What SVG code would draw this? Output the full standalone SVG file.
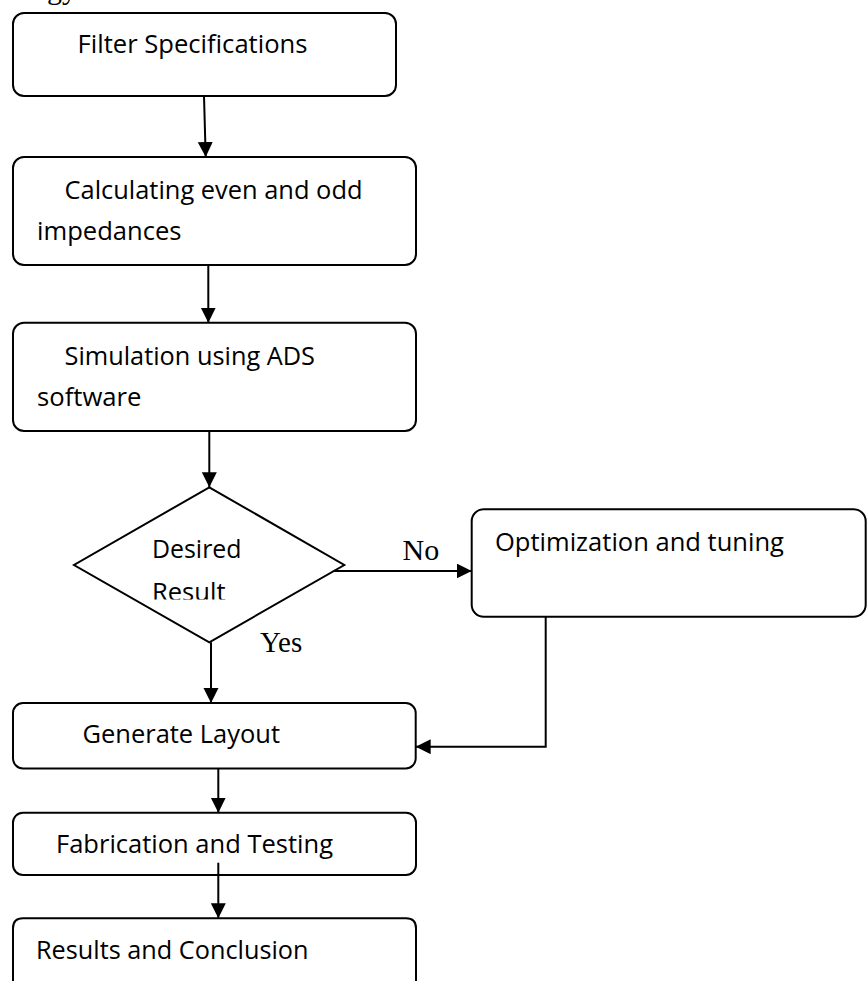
<svg xmlns="http://www.w3.org/2000/svg" width="867" height="981" viewBox="0 0 867 981">
<style>
.box{fill:#fff;stroke:#000;stroke-width:2}
.t{font-family:"Open Sans","Liberation Sans",sans-serif;font-size:25.5px;fill:#000}
.s{font-family:"Liberation Serif","Times New Roman",serif;font-size:30px;fill:#000}
.c{fill:none;stroke:#000;stroke-width:2}
</style>
<defs>
<marker id="ah" markerUnits="userSpaceOnUse" markerWidth="16" markerHeight="16" refX="15" refY="7.5" orient="auto">
<path d="M0,0 L15,7.5 L0,15 z" fill="#000"/>
</marker>
<clipPath id="clipRes"><rect x="100" y="570" width="200" height="29.5"/></clipPath>
</defs>
<rect width="867" height="981" fill="#fff"/>
<text class="s" x="47" y="-1">gy</text>

<g id="n1">
<rect class="box" x="13" y="13" width="383" height="83" rx="11"/>
<text class="t" x="77.5" y="53.3" textLength="230" lengthAdjust="spacingAndGlyphs">Filter Specifications</text>
</g>
<g id="n2">
<rect class="box" x="13" y="157" width="403" height="108" rx="11"/>
<text class="t" x="64.5" y="199.3" textLength="298" lengthAdjust="spacingAndGlyphs">Calculating even and odd</text>
<text class="t" x="37" y="240" textLength="144.5" lengthAdjust="spacingAndGlyphs">impedances</text>
</g>
<g id="n3">
<rect class="box" x="13" y="322.7" width="403" height="108.3" rx="11"/>
<text class="t" x="64.5" y="365" textLength="250.5" lengthAdjust="spacingAndGlyphs">Simulation using ADS</text>
<text class="t" x="37" y="405.7" textLength="104.5" lengthAdjust="spacingAndGlyphs">software</text>
</g>
<g id="n4">
<polygon class="box" points="209.3,487.3 344.3,565 209.3,642.3 74,565"/>
<text class="t" x="152" y="558.3" textLength="89.5" lengthAdjust="spacingAndGlyphs">Desired</text>
<text class="t" x="152" y="601" textLength="73.5" lengthAdjust="spacingAndGlyphs" clip-path="url(#clipRes)">Result</text>
</g>
<g id="n5">
<rect class="box" x="471.7" y="509.3" width="394" height="107.4" rx="12"/>
<text class="t" x="495" y="550.7" textLength="289" lengthAdjust="spacingAndGlyphs">Optimization and tuning</text>
</g>
<g id="n6">
<rect class="box" x="13" y="703" width="402.7" height="65.5" rx="10"/>
<text class="t" x="82.5" y="743.3" textLength="197.5" lengthAdjust="spacingAndGlyphs">Generate Layout</text>
</g>
<g id="n7">
<rect class="box" x="13" y="812.7" width="403" height="62.3" rx="10"/>
<text class="t" x="56" y="853.3" textLength="277" lengthAdjust="spacingAndGlyphs">Fabrication and Testing</text>
</g>
<g id="n8">
<path class="box" d="M13,990 L13,928.3 Q13,918.3 23,918.3 L406,918.3 Q416,918.3 416,928.3 L416,990"/>
<text class="t" x="36" y="959" textLength="272.5" lengthAdjust="spacingAndGlyphs">Results and Conclusion</text>
</g>

<g id="connectors">
<line class="c" x1="204" y1="96" x2="205.7" y2="157" marker-end="url(#ah)"/>
<line class="c" x1="208.3" y1="265" x2="208.3" y2="322.7" marker-end="url(#ah)"/>
<line class="c" x1="209.3" y1="431" x2="209.3" y2="487.3" marker-end="url(#ah)"/>
<line class="c" x1="333.3" y1="571" x2="471.7" y2="571" marker-end="url(#ah)"/>
<line class="c" x1="211" y1="642.3" x2="211" y2="703" marker-end="url(#ah)"/>
<polyline class="c" points="545.7,616.7 545.7,746.7 415.7,746.7" marker-end="url(#ah)"/>
<line class="c" x1="218.3" y1="768.5" x2="218.3" y2="812.7" marker-end="url(#ah)"/>
<line class="c" x1="218.3" y1="862.7" x2="218.3" y2="918.3" marker-end="url(#ah)"/>
<text class="s" x="402.5" y="560">No</text>
<text class="s" x="260" y="651.7" style="font-size:29px">Yes</text>
</g>
</svg>
